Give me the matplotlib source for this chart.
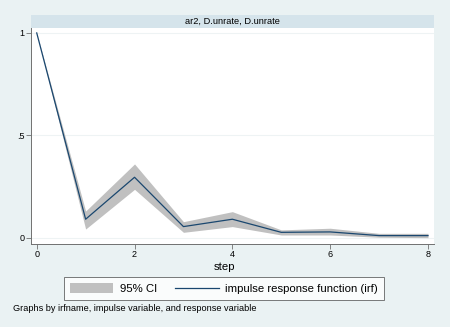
"""Stata-style impulse response function plot (ar2, D.unrate, D.unrate)."""

import matplotlib.pyplot as plt
from matplotlib.patches import Patch
from matplotlib.lines import Line2D

plt.rcParams["font.family"] = ["Liberation Sans", "DejaVu Sans"]

step = [0, 1, 2, 3, 4, 5, 6, 7, 8]
irf = [1.0, 0.09, 0.295, 0.054, 0.09, 0.026, 0.028, 0.01, 0.01]
ci_upper = [1.0, 0.13, 0.36, 0.078, 0.127, 0.038, 0.046, 0.021, 0.021]
ci_lower = [1.0, 0.042, 0.236, 0.026, 0.054, 0.013, 0.013, 0.002, 0.0]
yticks = [0, 0.5, 1]
ytick_labels = ["0", ".5", "1"]
xticks = [0, 2, 4, 6, 8]

BG = "#EAF2F3"
STRIP = "#D5E4EB"
NAVY = "#1A476F"
CI_GRAY = "#C0C0C0"
AXIS_GRAY = "#707070"

W, H = 450, 327
fig = plt.figure(figsize=(W / 100, H / 100), dpi=100, facecolor=BG)


def box(x0, y0, x1, y1):
    # pixel box (top-left origin) -> figure fraction rect
    return [x0 / W, 1 - y1 / H, (x1 - x0) / W, (y1 - y0) / H]


ax = fig.add_axes(box(31, 28, 434, 244))
ax.set_facecolor("white")

ax.fill_between(step, ci_lower, ci_upper, color=CI_GRAY, linewidth=0, zorder=2)
ax.plot(step, irf, color=NAVY, linewidth=0.9, zorder=3)

ax.set_xlim(-0.117, 8.123)
ax.set_ylim(-0.031, 1.024)
ax.set_xticks(xticks)
ax.set_xticklabels([str(x) for x in xticks], fontsize=6.5)
ax.set_yticks(yticks)
ax.set_yticklabels(ytick_labels, fontsize=6.5)
ax.tick_params(length=3.5, width=0.6, color=AXIS_GRAY, pad=1)
for y in yticks:
    ax.axhline(y, color="#EEF3F4", linewidth=0.8, zorder=1)

for s in ["top", "right"]:
    ax.spines[s].set_visible(False)
for s in ["left", "bottom"]:
    ax.spines[s].set_color(AXIS_GRAY)
    ax.spines[s].set_linewidth(0.7)

fig.text(224 / W, 1 - 267 / H, "step", fontsize=8.2, ha="center", va="center")

# title strip
strip = fig.add_axes(box(31, 15, 434, 28))
strip.set_facecolor(STRIP)
strip.set_xticks([])
strip.set_yticks([])
for s in strip.spines.values():
    s.set_visible(False)
strip.text(0.5, 0.5, "ar2, D.unrate, D.unrate", ha="center", va="center",
           fontsize=6.7, transform=strip.transAxes)

handles = [
    Patch(facecolor=CI_GRAY, edgecolor="none", label="95% CI"),
    Line2D([0], [0], color=NAVY, linewidth=0.9, label="impulse response function (irf)"),
]
leg = fig.legend(handles=handles, loc="center", ncol=2,
                 bbox_to_anchor=(224 / W, 1 - 288.5 / H), fontsize=8.2,
                 frameon=True, fancybox=False, handlelength=3.8, handleheight=1.05,
                 columnspacing=1.6, borderpad=0.55, handletextpad=0.6)
leg.get_frame().set_edgecolor("#404040")
leg.get_frame().set_linewidth(0.6)
leg.get_frame().set_facecolor("white")

fig.text(13 / W, 1 - 308.5 / H, "Graphs by irfname, impulse variable, and response variable",
         fontsize=6.6, va="center", ha="left")

fig.savefig("out.png", dpi=100, facecolor=BG)
